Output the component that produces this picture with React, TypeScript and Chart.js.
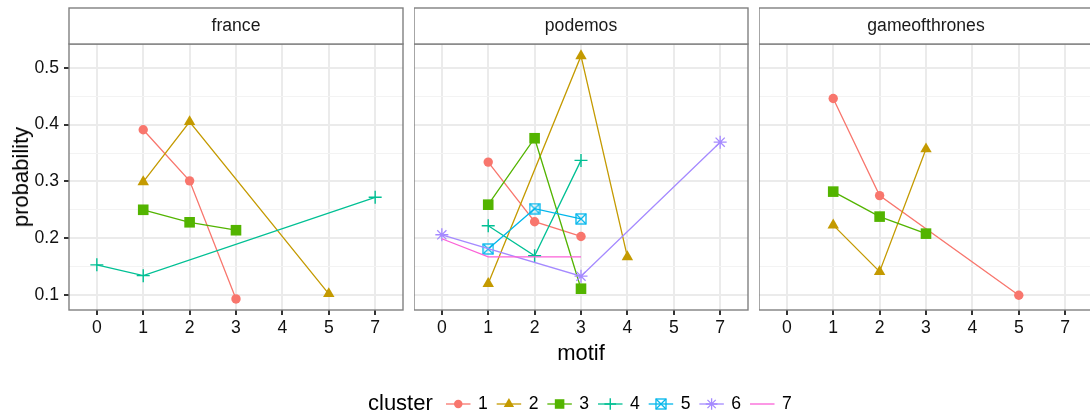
import React, { useEffect, useRef } from 'react';
import { Chart, registerables } from 'chart.js';
import { drawPoint } from 'chart.js/helpers';

Chart.register(...registerables);

const FONT = '"Liberation Sans", Arial, Helvetica, sans-serif';
Chart.defaults.font.family = FONT;

// Discrete motif categories along the x axis
const motifLabels = ['0', '1', '2', '3', '4', '5', '7'];
const yMajorTicks = [0.1, 0.2, 0.3, 0.4, 0.5];
const yMinorTicks = [0.15, 0.25, 0.35, 0.45];
const yMin = 0.0735;
const yMax = 0.542;

const clusterNames = ['1', '2', '3', '4', '5', '6', '7'];
const clusterColors = ['#F8766D', '#C49A00', '#53B400', '#00C094', '#00B6EB', '#A58AFF', '#FB61D7'];
const facetNames = ['france', 'podemos', 'gameofthrones'];

// france
const franceC1Motif = [1, 2, 3];
const franceC1Prob = [0.391, 0.301, 0.093];
const franceC2Motif = [1, 2, 5];
const franceC2Prob = [0.299, 0.405, 0.102];
const franceC3Motif = [1, 2, 3];
const franceC3Prob = [0.25, 0.228, 0.214];
const franceC4Motif = [0, 1, 7];
const franceC4Prob = [0.153, 0.134, 0.272];

// podemos
const podemosC1Motif = [1, 2, 3];
const podemosC1Prob = [0.334, 0.229, 0.203];
const podemosC2Motif = [1, 3, 4];
const podemosC2Prob = [0.12, 0.521, 0.167];
const podemosC3Motif = [1, 2, 3];
const podemosC3Prob = [0.259, 0.376, 0.111];
const podemosC4Motif = [1, 2, 3];
const podemosC4Prob = [0.222, 0.169, 0.337];
const podemosC5Motif = [1, 2, 3];
const podemosC5Prob = [0.181, 0.252, 0.234];
const podemosC6Motif = [0, 3, 7];
const podemosC6Prob = [0.206, 0.133, 0.369];
const podemosC7Motif = [0, 1, 3];
const podemosC7Prob = [0.199, 0.167, 0.167];

// gameofthrones
const gotC1Motif = [1, 2, 5];
const gotC1Prob = [0.446, 0.275, 0.0995];
const gotC2Motif = [1, 2, 3];
const gotC2Prob = [0.223, 0.141, 0.357];
const gotC3Motif = [1, 2, 3];
const gotC3Prob = [0.282, 0.238, 0.208];

type Series = [number, number[], number[]];

const franceSeries: Series[] = [
  [1, franceC1Motif, franceC1Prob],
  [2, franceC2Motif, franceC2Prob],
  [3, franceC3Motif, franceC3Prob],
  [4, franceC4Motif, franceC4Prob],
];
const podemosSeries: Series[] = [
  [1, podemosC1Motif, podemosC1Prob],
  [2, podemosC2Motif, podemosC2Prob],
  [3, podemosC3Motif, podemosC3Prob],
  [4, podemosC4Motif, podemosC4Prob],
  [5, podemosC5Motif, podemosC5Prob],
  [6, podemosC6Motif, podemosC6Prob],
  [7, podemosC7Motif, podemosC7Prob],
];
const gotSeries: Series[] = [
  [1, gotC1Motif, gotC1Prob],
  [2, gotC2Motif, gotC2Prob],
  [3, gotC3Motif, gotC3Prob],
];

// Boxed-cross marker (square with diagonals)
const boxCrossCache: Record<string, HTMLCanvasElement> = {};
function boxCross(color: string) {
  if (boxCrossCache[color]) return boxCrossCache[color];
  const c = document.createElement('canvas');
  c.width = 12;
  c.height = 12;
  const g = c.getContext('2d')!;
  g.strokeStyle = color;
  g.lineWidth = 1.3;
  g.strokeRect(1, 1, 10, 10);
  g.beginPath();
  g.moveTo(1, 1);
  g.lineTo(11, 11);
  g.moveTo(11, 1);
  g.lineTo(1, 11);
  g.stroke();
  boxCrossCache[color] = c;
  return c;
}

// Marker style per cluster number
function markerFor(cluster: number) {
  const color = clusterColors[cluster - 1];
  switch (cluster) {
    case 1: return { pointStyle: 'circle' as any, radius: 4.7, borderWidth: 0 };
    case 2: return { pointStyle: 'triangle' as any, radius: 6.6, borderWidth: 0 };
    case 3: return { pointStyle: 'rect' as any, radius: 7.5, borderWidth: 0 };
    case 4: return { pointStyle: 'cross' as any, radius: 6.5, borderWidth: 1.4 };
    case 5: return { pointStyle: boxCross(color) as any, radius: 6, borderWidth: 0 };
    case 6: return { pointStyle: 'star' as any, radius: 6.5, borderWidth: 1.3 };
    default: return { pointStyle: false as any, radius: 0, borderWidth: 0 };
  }
}

const isMajor = (v: number) => Math.abs(v * 10 - Math.round(v * 10)) < 1e-6;

function Panel(props: { facet: string; series: Series[]; left: number; width: number; showY: boolean }) {
  const ref = useRef<HTMLCanvasElement>(null);
  useEffect(() => {
    const { facet, series, showY } = props;
    const datasets = series.map(([cl, motifs, probs]) => {
      const color = clusterColors[cl - 1];
      const m = markerFor(cl);
      return {
        label: clusterNames[cl - 1],
        data: motifs.map((mv, k) => ({ x: motifLabels.indexOf(String(mv)), y: probs[k] })),
        borderColor: color,
        backgroundColor: color,
        borderWidth: 1.3,
        pointStyle: m.pointStyle,
        pointRadius: m.radius,
        pointHoverRadius: m.radius,
        pointBorderWidth: m.borderWidth,
        pointBackgroundColor: color,
        pointBorderColor: color,
        tension: 0,
        fill: false,
        order: 10 - cl,
      };
    });

    const framePlugin = {
      id: 'panelFrame',
      afterDraw(chart: any) {
        const { ctx, chartArea } = chart;
        const { left, top, right, bottom } = chartArea;
        ctx.save();
        ctx.strokeStyle = '#808080';
        ctx.lineWidth = 1.4;
        ctx.strokeRect(left, top, right - left, bottom - top);
        ctx.fillStyle = '#ffffff';
        ctx.fillRect(left, 8, right - left, top - 8);
        ctx.strokeRect(left, 8, right - left, top - 8);
        ctx.fillStyle = '#1a1a1a';
        ctx.font = `17.6px ${FONT}`;
        ctx.textAlign = 'center';
        ctx.textBaseline = 'middle';
        ctx.fillText(facet, (left + right) / 2, 26.5);
        ctx.restore();
      },
    };

    const chart = new Chart(ref.current!, {
      type: 'line',
      data: { datasets: datasets as any },
      options: {
        animation: false,
        responsive: false,
        events: [],
        layout: { autoPadding: false, padding: { top: 44, right: 1, left: 0, bottom: 0 } },
        plugins: { legend: { display: false }, tooltip: { enabled: false } },
        scales: {
          x: {
            type: 'linear',
            min: -0.6,
            max: 6.6,
            afterBuildTicks: (s: any) => {
              s.ticks = motifLabels.map((_, i) => ({ value: i }));
            },
            afterFit: (s: any) => {
              s.height = 110;
              s.paddingLeft = 0;
              s.paddingRight = 0;
            },
            ticks: {
              callback: (v: any) => motifLabels[v] ?? '',
              font: { size: 17.6 },
              color: '#111111',
              padding: 3,
              autoSkip: false,
              maxRotation: 0,
            },
            grid: { color: '#ebebeb', lineWidth: 2, tickLength: 5, tickColor: '#333333', tickWidth: 2 },
            border: { display: false },
          },
          y: {
            type: 'linear',
            min: yMin,
            max: yMax,
            afterBuildTicks: (s: any) => {
              s.ticks = [...yMinorTicks, ...yMajorTicks].sort((a, b) => a - b).map((v) => ({ value: v }));
            },
            afterFit: (s: any) => {
              s.width = showY ? 69 : 0;
              s.paddingTop = 0;
              s.paddingBottom = 0;
            },
            ticks: {
              display: showY,
              callback: (v: any) => (isMajor(v) ? Number(v).toFixed(1) : ''),
              font: { size: 17.6 },
              color: '#111111',
              padding: 5,
            },
            grid: {
              color: (c: any) => (isMajor(c.tick.value) ? '#ebebeb' : '#f3f3f3'),
              lineWidth: (c: any) => (isMajor(c.tick.value) ? 2 : 1),
              drawTicks: showY,
              tickLength: 5,
              tickColor: (c: any) => (isMajor(c.tick.value) ? '#333333' : 'rgba(0,0,0,0)'),
              tickWidth: 2,
            },
            border: { display: false },
          },
        },
      },
      plugins: [framePlugin],
    });
    return () => chart.destroy();
  }, []);
  return (
    <canvas
      ref={ref}
      width={props.width}
      height={420}
      style={{ position: 'absolute', left: props.left, top: 0, width: props.width, height: 420 }}
    />
  );
}

function Legend() {
  const ref = useRef<HTMLCanvasElement>(null);
  useEffect(() => {
    const ctx = ref.current!.getContext('2d')!;
    ctx.clearRect(0, 0, 1090, 40);
    const y = 24;
    ctx.fillStyle = '#000';
    ctx.font = `22px ${FONT}`;
    ctx.textBaseline = 'middle';
    ctx.textAlign = 'left';
    ctx.fillText('cluster', 368, y);
    clusterNames.forEach((name, i) => {
      const cl = i + 1;
      const color = clusterColors[i];
      const x0 = 446 + i * 50.67;
      ctx.save();
      ctx.strokeStyle = color;
      ctx.lineWidth = 1.3;
      ctx.beginPath();
      ctx.moveTo(x0, y);
      ctx.lineTo(x0 + 24.5, y);
      ctx.stroke();
      const m = markerFor(cl);
      if (m.radius > 0) {
        ctx.fillStyle = color;
        ctx.strokeStyle = color;
        ctx.lineWidth = m.borderWidth;
        drawPoint(ctx, { pointStyle: m.pointStyle, rotation: 0, radius: m.radius * 0.9, borderWidth: m.borderWidth } as any, x0 + 12.25, y);
      }
      ctx.restore();
      ctx.fillStyle = '#000';
      ctx.font = `17.6px ${FONT}`;
      ctx.textBaseline = 'middle';
      ctx.fillText(name, x0 + 32, y);
    });
  }, []);
  return <canvas ref={ref} width={1090} height={40} style={{ position: 'absolute', left: 0, top: 380 }} />;
}

export default function App() {
  return (
    <div
      style={{
        position: 'fixed',
        left: 0,
        top: 0,
        width: 1090,
        height: 420,
        overflow: 'hidden',
        background: '#ffffff',
        fontFamily: FONT,
      }}
    >
      <Panel facet={facetNames[0]} series={franceSeries} left={0} width={404} showY={true} />
      <Panel facet={facetNames[1]} series={podemosSeries} left={414} width={335} showY={false} />
      <Panel facet={facetNames[2]} series={gotSeries} left={759} width={335} showY={false} />
      <div
        style={{
          position: 'absolute',
          left: 21,
          top: 177,
          transform: 'translate(-50%, -50%) rotate(-90deg)',
          fontSize: 22,
          whiteSpace: 'nowrap',
          color: '#000',
        }}
      >
        probability
      </div>
      <div
        style={{
          position: 'absolute',
          left: 581,
          top: 353,
          transform: 'translate(-50%, -50%)',
          fontSize: 22,
          whiteSpace: 'nowrap',
          color: '#000',
        }}
      >
        motif
      </div>
      <Legend />
    </div>
  );
}
